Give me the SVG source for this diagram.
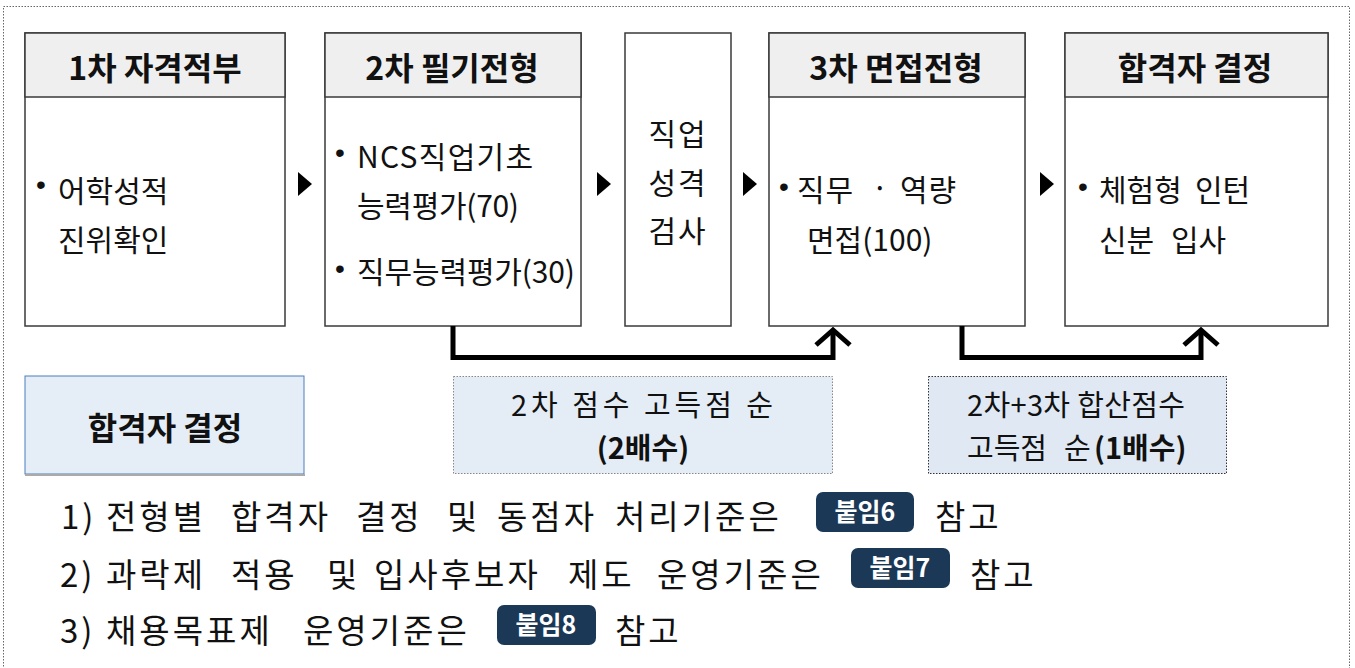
<svg xmlns="http://www.w3.org/2000/svg" width="1355" height="668" viewBox="0 0 1355 668">
<style>
.box{fill:#fff;stroke:#3a3a3a;stroke-width:1.5}
.hdr{fill:#efefef;stroke:#3a3a3a;stroke-width:1.5}
.ht{font-family:"Noto Sans CJK KR","Noto Sans",sans-serif;font-weight:bold;font-size:32px;text-anchor:middle;fill:#111}
.bt{font-family:"Noto Sans CJK KR","Noto Sans",sans-serif;font-size:30px;fill:#111}
.bul{font-family:"Liberation Sans",sans-serif;font-size:28px;fill:#111}
.tri{fill:#000}
.conn{fill:none;stroke:#000;stroke-width:5;stroke-linejoin:miter}
.note{font-family:"Noto Sans CJK KR","Noto Sans",sans-serif;font-size:29px;fill:#111}
.b{font-weight:bold}
.ln{font-family:"Noto Sans CJK KR","Noto Sans",sans-serif;font-size:33px;fill:#111;letter-spacing:3px}
.badge{fill:#1c3857}
.bdt{font-family:"Noto Sans CJK KR","Noto Sans",sans-serif;font-size:25px;font-weight:bold;fill:#fff;text-anchor:middle}
</style>
<defs>
<marker id="ah" markerUnits="userSpaceOnUse" markerWidth="44" markerHeight="44" viewBox="-22 -22 44 44" refX="0" refY="0" orient="auto" overflow="visible">
<path d="M-15,-17 L0,0 L-15,17" fill="none" stroke="#000" stroke-width="5"/>
</marker>
</defs>
<rect x="3.5" y="6.5" width="1346" height="700" fill="none" stroke="#666" stroke-width="1" stroke-dasharray="1.5,1.5"/>

<g id="node-1">
<rect class="box" x="25" y="33" width="260" height="293"/>
<rect class="hdr" x="25" y="33" width="260" height="64"/>
<text class="ht" x="155" y="80">1차 자격적부</text>
<text class="bul" x="36" y="194">•</text>
<text class="bt" x="58" y="202">어학성적</text>
<text class="bt" x="58" y="251">진위확인</text>
</g>

<g id="node-2">
<rect class="box" x="325" y="33" width="256" height="293"/>
<rect class="hdr" x="325" y="33" width="256" height="64"/>
<text class="ht" x="452" y="80">2차 필기전형</text>
<text class="bul" x="335" y="162">•</text>
<text class="bt" x="357" y="168" textLength="176">NCS직업기초</text>
<text class="bt" x="357" y="217" textLength="162">능력평가(70)</text>
<text class="bul" x="335" y="278">•</text>
<text class="bt" x="357" y="283" textLength="218">직무능력평가(30)</text>
</g>

<g id="node-3">
<rect class="box" x="625" y="33" width="106" height="293"/>
<text class="bt" x="678" y="145" text-anchor="middle" letter-spacing="2">직업</text>
<text class="bt" x="678" y="194" text-anchor="middle" letter-spacing="2">성격</text>
<text class="bt" x="678" y="242" text-anchor="middle" letter-spacing="2">검사</text>
</g>

<g id="node-4">
<rect class="box" x="769" y="33" width="256" height="293"/>
<rect class="hdr" x="769" y="33" width="256" height="64"/>
<text class="ht" x="896" y="80">3차 면접전형</text>
<text class="bul" x="779" y="196">•</text>
<text class="bt" x="797" y="201" letter-spacing="1">직무</text>
<text class="bt" x="880" y="199" text-anchor="middle">·</text>
<text class="bt" x="900" y="201" letter-spacing="1">역량</text>
<text class="bt" x="807" y="251">면접(100)</text>
</g>

<g id="node-5">
<rect class="box" x="1065" y="33" width="263" height="293"/>
<rect class="hdr" x="1065" y="33" width="263" height="64"/>
<text class="ht" x="1195" y="80">합격자 결정</text>
<text class="bul" x="1078" y="196">•</text>
<text class="bt" x="1099" y="201"><tspan>체험형</tspan><tspan x="1195">인턴</tspan></text>
<text class="bt" x="1099" y="251"><tspan>신분</tspan><tspan x="1171">입사</tspan></text>
</g>

<g id="connectors">
<polygon class="tri" points="298,172 298,196 312,184"/>
<polygon class="tri" points="597,172 597,196 611,184"/>
<polygon class="tri" points="743,172 743,196 757,184"/>
<polygon class="tri" points="1040,172 1040,196 1054,184"/>
<path class="conn" d="M453,326 V357.5 H833 V330" marker-end="url(#ah)"/>
<path class="conn" d="M962,326 V357.5 H1201 V330" marker-end="url(#ah)"/>
</g>

<g id="node-result">
<rect x="25" y="376" width="279" height="98" fill="#e5edf7" stroke="#4a7ebb" stroke-width="1"/>
<line x1="25" y1="475" x2="305" y2="475" stroke="#aaa" stroke-width="2"/>
<text class="ht" x="165" y="440">합격자 결정</text>
</g>

<g id="note-2">
<rect x="453.5" y="376.5" width="379" height="97" fill="#e4ecf6" stroke="#888" stroke-width="1" stroke-dasharray="1.5,1.5"/>
<text class="note" x="511" y="416" textLength="262">2차 점수 고득점 순</text>
<text class="note b" x="643" y="459" text-anchor="middle">(2배수)</text>
</g>

<g id="note-3">
<rect x="928.5" y="376.5" width="298" height="97" fill="#dfe8f3" stroke="#333" stroke-width="1" stroke-dasharray="1.5,1.5"/>
<text class="note" x="967" y="416" textLength="218">2차+3차 합산점수</text>
<text class="note" x="967" y="459"><tspan>고득점</tspan><tspan x="1064">순</tspan><tspan class="b" x="1094">(1배수)</tspan></text>
</g>

<g id="notes">
<text class="ln" y="529"><tspan x="61">1)</tspan><tspan x="106">전형별</tspan><tspan x="231">합격자</tspan><tspan x="356">결정</tspan><tspan x="447">및</tspan><tspan x="497">동점자</tspan><tspan x="615">처리기준은</tspan><tspan x="935">참고</tspan></text>
<rect class="badge" x="816" y="492" width="98" height="40" rx="7"/>
<text class="bdt" x="865" y="521">붙임6</text>

<text class="ln" y="587"><tspan x="60">2)</tspan><tspan x="106">과락제</tspan><tspan x="231">적용</tspan><tspan x="327">및</tspan><tspan x="374">입사후보자</tspan><tspan x="568">제도</tspan><tspan x="657">운영기준은</tspan><tspan x="970">참고</tspan></text>
<rect class="badge" x="851" y="548" width="99" height="40" rx="7"/>
<text class="bdt" x="900" y="577">붙임7</text>

<text class="ln" y="643"><tspan x="60">3)</tspan><tspan x="106">채용목표제</tspan><tspan x="303">운영기준은</tspan><tspan x="615">참고</tspan></text>
<rect class="badge" x="497" y="605" width="99" height="40" rx="7"/>
<text class="bdt" x="546" y="634">붙임8</text>
</g>
</svg>
